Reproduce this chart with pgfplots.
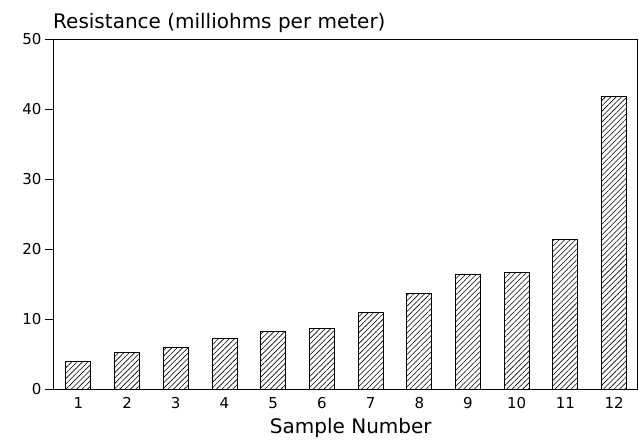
\documentclass[border=0pt]{standalone}
\usepackage{fontspec}
\setmainfont{DejaVu Sans}
\usepackage{pgfplots}
\pgfplotsset{compat=1.18}
\usetikzlibrary{patterns.meta}
\begin{document}
\begin{tikzpicture}
\begin{axis}[
  scale only axis, width=584pt, height=350pt,
  at={(0,0)}, anchor=south west,
  xmin=0.48, xmax=12.47, ymin=0, ymax=50,
  xtick={1,...,12}, ytick={0,10,...,50},
  xtick style={draw=none},
  ytick style={black, line width=0.9pt},
  tick align=outside, major tick length=8pt,
  ytick pos=left, xtick pos=bottom,
  axis line style={line width=0.9pt},
  tick label style={font=\fontsize{15}{17}\selectfont},
  /pgf/number format/assume math mode=true,
  xticklabel style={yshift=3pt},
  clip=false,
]
\addplot[ybar, bar width=25pt, draw=black, line width=0.9pt,
  pattern={Lines[angle=45,distance=3.8pt,line width=0.6pt]}]
  coordinates {(1,4.0) (2,5.2) (3,5.9) (4,7.2) (5,8.2) (6,8.6) (7,11.0) (8,13.7) (9,16.4) (10,16.7) (11,21.3) (12,41.8)};
\node[anchor=base west, font=\fontsize{20}{24}\selectfont, inner sep=0pt] at (rel axis cs:0,1) [yshift=10.5pt] {Resistance (milliohms per meter)};
\node[anchor=base, font=\fontsize{20}{24}\selectfont, inner sep=0pt] at (rel axis cs:0.51,0) [yshift=-44.5pt] {Sample Number};
\end{axis}
\pgfresetboundingbox
\path (-53pt,-50pt) rectangle (586pt,389pt);
\end{tikzpicture}
\end{document}
